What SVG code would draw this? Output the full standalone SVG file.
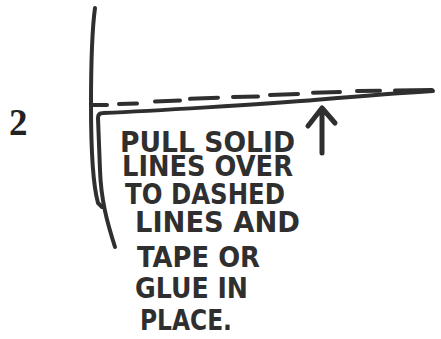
<svg xmlns="http://www.w3.org/2000/svg" width="441" height="339" viewBox="0 0 441 339">
<style>
.ink{fill:none;stroke:#2f2f2f;stroke-width:4;stroke-linecap:round;stroke-linejoin:round}
.hand{font-family:"DejaVu Sans","Liberation Sans",sans-serif;font-weight:bold;font-size:28px;fill:#2f2f2f}
</style>
<rect width="441" height="339" fill="#ffffff"/>
<g id="step-number">
<text x="9" y="135" font-family="Liberation Serif, serif" font-weight="bold" font-size="37" fill="#222">2</text>
</g>
<g id="connectors">
<path id="outer-edge" class="ink" d="M95,8 C92,30 91,70 91,105 C91,150 93,185 98,203 L102,207"/>
<path id="inner-edge" class="ink" d="M115,247 C107,222 101,200 100,170 L98,118 Q98,113 103,113 C150,111 260,104.5 320,99.5 S400,93 433,91"/>
<path id="dashed-line" class="ink" d="M92,105 L107,105 M119,104 L137,103.5 M155,101.5 L180,100.5 M190,98.8 L218,97.7 M233,97 L258,96.5 M270,95 L298,94 M313,92.8 L340,92 M357,91 L380,90.7 M395,90.5 L432,90"/>
<path id="arrow" class="ink" style="stroke-width:5" d="M322,153 L322,110 M308,126 L322,108 L335,123"/>
</g>
<g id="label">
<text class="hand" x="120" y="152" textLength="175" lengthAdjust="spacingAndGlyphs">PULL SOLID</text>
<text class="hand" x="122" y="176" textLength="171" lengthAdjust="spacingAndGlyphs">LINES OVER</text>
<text class="hand" x="125" y="204" textLength="160" lengthAdjust="spacingAndGlyphs">TO DASHED</text>
<text class="hand" x="135" y="232" textLength="165" lengthAdjust="spacingAndGlyphs">LINES AND</text>
<text class="hand" x="137" y="267" textLength="123" lengthAdjust="spacingAndGlyphs">TAPE OR</text>
<text class="hand" x="135" y="298" textLength="113" lengthAdjust="spacingAndGlyphs">GLUE IN</text>
<text class="hand" x="140" y="330" textLength="92" lengthAdjust="spacingAndGlyphs">PLACE.</text>
</g>
</svg>
